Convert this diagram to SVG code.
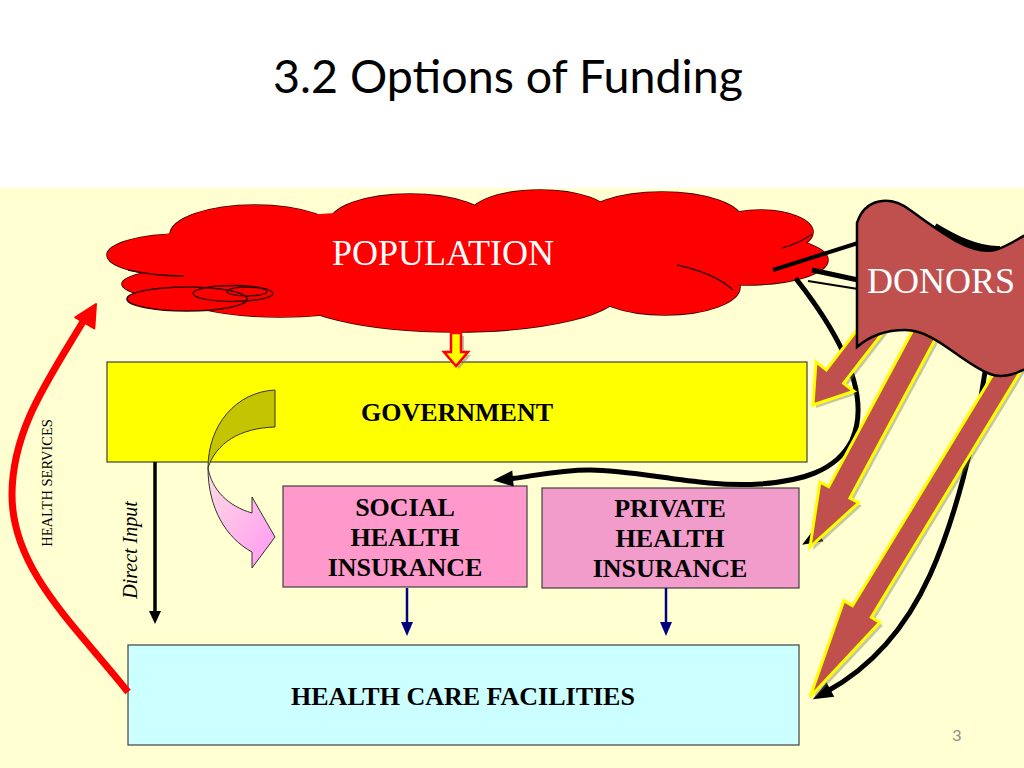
<svg xmlns="http://www.w3.org/2000/svg" width="1024" height="768" viewBox="0 0 1024 768">
<style>
.box{stroke:#404040;stroke-width:1.2}
.lbl{font-family:"Liberation Serif","Times New Roman",serif;font-weight:bold;font-size:26px;fill:#000;text-anchor:middle}
.cl{fill:#FF0000;stroke:#3a0000;stroke-width:1.6}
.cf{fill:#FF0000;stroke:none}
.cin{fill:none;stroke:#3a0000;stroke-width:1.4}
.blk{fill:none;stroke:#000;stroke-width:5;stroke-linecap:round}
.brown{fill:#C0504D;stroke:#FFFF00;stroke-width:3;stroke-linejoin:miter}
.shadow{fill:#707060;opacity:0.4}
.navy{stroke:#000080;stroke-width:2.5}
.navyhead{fill:#000080}
</style>
<defs>
<marker id="blackHead" markerWidth="4.2" markerHeight="3.4" refX="1" refY="1.6" orient="auto" markerUnits="strokeWidth" overflow="visible">
<path d="M0,0 L4,1.6 L0,3.2 Z" fill="#000"/>
</marker>
<linearGradient id="pinkGrad" x1="0" y1="0" x2="1" y2="1">
<stop offset="0" stop-color="#FFDCE2"/>
<stop offset="1" stop-color="#FF98F4"/>
</linearGradient>
<polygon id="arrA" points="813,405 853.9,391.2 843.6,383.3 888.8,324.8 871.4,311.4 826.3,369.9 816,361.9"/>
<polygon id="arrB" points="810,547 858.7,502.8 849.9,498.1 938.9,332.5 917.7,321.1 828.7,486.7 819.9,482"/>
<polygon id="arrC" points="810,697 879.9,622.4 871.3,617.2 1024.4,365 1005.6,353.6 852.5,605.8 843.9,600.6"/>
</defs>

<rect x="0" y="0" width="1024" height="768" fill="#FFFFFF"/>
<rect x="0" y="188" width="1024" height="580" fill="#FFFFD1"/>

<text x="273" y="93" font-family="Lato,'Open Sans',sans-serif" font-size="46" textLength="470" lengthAdjust="spacingAndGlyphs" fill="#000">3.2 Options of Funding</text>

<g id="government">
<rect class="box" x="107" y="362" width="700" height="100" fill="#FFFF00"/>
<text class="lbl" x="457" y="421">GOVERNMENT</text>
</g>

<g id="health-care-facilities">
<rect class="box" x="128" y="645" width="671" height="100" fill="#CCFFFF"/>
<text class="lbl" x="463" y="705">HEALTH CARE FACILITIES</text>
</g>

<g id="social-health-insurance">
<rect class="box" x="283" y="486" width="244" height="101" fill="#FF99CC"/>
<text class="lbl" x="405" y="516">SOCIAL</text>
<text class="lbl" x="405" y="546">HEALTH</text>
<text class="lbl" x="405" y="576">INSURANCE</text>
</g>

<g id="private-health-insurance">
<rect class="box" x="542" y="488" width="257" height="100" fill="#F29CCB"/>
<text class="lbl" x="670" y="517">PRIVATE</text>
<text class="lbl" x="670" y="547">HEALTH</text>
<text class="lbl" x="670" y="577">INSURANCE</text>
</g>

<g id="population">
<ellipse class="cl" cx="255" cy="235" rx="85" ry="30"/>
<ellipse class="cl" cx="410" cy="222" rx="80" ry="28"/>
<ellipse class="cl" cx="540" cy="215" rx="70" ry="25"/>
<ellipse class="cl" cx="662" cy="220" rx="80" ry="28"/>
<ellipse class="cl" cx="760" cy="232" rx="53" ry="22"/>
<ellipse class="cl" cx="745" cy="260" rx="83" ry="25"/>
<ellipse class="cl" cx="665" cy="287" rx="75" ry="28"/>
<ellipse class="cl" cx="455" cy="292" rx="165" ry="40"/>
<ellipse class="cl" cx="280" cy="290" rx="110" ry="27"/>
<ellipse class="cl" cx="200" cy="284" rx="78" ry="16"/>
<ellipse class="cl" cx="182" cy="255" rx="75" ry="21"/>
<ellipse class="cf" cx="255" cy="235" rx="85" ry="30"/>
<ellipse class="cf" cx="410" cy="222" rx="80" ry="28"/>
<ellipse class="cf" cx="540" cy="215" rx="70" ry="25"/>
<ellipse class="cf" cx="662" cy="220" rx="80" ry="28"/>
<ellipse class="cf" cx="760" cy="232" rx="53" ry="22"/>
<ellipse class="cf" cx="745" cy="260" rx="83" ry="25"/>
<ellipse class="cf" cx="665" cy="287" rx="75" ry="28"/>
<ellipse class="cf" cx="455" cy="292" rx="165" ry="40"/>
<ellipse class="cf" cx="280" cy="290" rx="110" ry="27"/>
<ellipse class="cf" cx="200" cy="284" rx="78" ry="16"/>
<ellipse class="cf" cx="182" cy="255" rx="75" ry="21"/>
<ellipse class="cf" cx="450" cy="255" rx="320" ry="45"/>
<ellipse class="cl" cx="187" cy="299" rx="60" ry="12"/>
<path class="cin" d="M677,265 C700,270 720,278 733,290"/>
<path class="cin" d="M782,248 Q800,243 812,234"/>
<path class="cin" d="M128,270 Q155,276 184,276"/>
<ellipse class="cin" cx="233" cy="293.5" rx="40" ry="8"/>
<ellipse class="cin" cx="247" cy="291.5" rx="20" ry="4.5"/>
<text x="443" y="265" font-family="'Liberation Serif','Times New Roman',serif" font-size="36" fill="#FFFFFF" text-anchor="middle">POPULATION</text>
</g>

<g id="connectors">
<!-- population to government -->
<polygon points="451,333 461,333 461,352 468,352 456,366 444,352 451,352" fill="#808080" opacity="0.5" transform="translate(3,3)"/>
<polygon points="451,333 461,333 461,352 468,352 456,366 444,352 451,352" fill="#FFFF00" stroke="#FF0000" stroke-width="2.5" stroke-linejoin="miter"/>
<!-- direct input -->
<line x1="155" y1="462" x2="155" y2="613" stroke="#000" stroke-width="3.5"/>
<polygon points="149,611 161,611 155,624" fill="#000"/>
<text transform="translate(137,550) rotate(-90)" font-family="'Liberation Serif','Times New Roman',serif" font-style="italic" font-size="20" text-anchor="middle" fill="#000">Direct Input</text>
<!-- insurance to facilities -->
<line class="navy" x1="407" y1="588" x2="407" y2="624"/>
<polygon class="navyhead" points="401,622 413,622 407,636"/>
<line class="navy" x1="666" y1="588" x2="666" y2="624"/>
<polygon class="navyhead" points="660,622 672,622 666,636"/>
<!-- government to social health insurance (curved arrow) -->
<path d="M275,390 C236,392 208,425 208,468 C216,443 240,428 275,427 Z" fill="#C4C400" stroke="#333" stroke-width="1"/>
<path d="M208,468 C208,508 226,538 252,552 L252,568 L275,537 L252,497 L252,513 C228,506 212,490 208,468 Z" fill="url(#pinkGrad)" stroke="#333" stroke-width="1"/>
<!-- health services back to population -->
<path d="M128,692 C75,625 12,570 12,495 C12,430 48,380 84,320" fill="none" stroke="#FF0000" stroke-width="7"/>
<polygon points="96,304 94.3,328.5 75.3,317.3" fill="#FF0000" stroke="#FF0000" stroke-width="2" stroke-linejoin="round"/>
<text transform="translate(52,483) rotate(-90)" font-family="'Liberation Serif','Times New Roman',serif" font-size="14.5" text-anchor="middle" fill="#000">HEALTH SERVICES</text>
<!-- black lines between population and donors -->
<line x1="773" y1="270" x2="858" y2="243" stroke="#000" stroke-width="4"/>
<line x1="812" y1="270" x2="858" y2="280" stroke="#000" stroke-width="5"/>
<line x1="808" y1="281" x2="858" y2="289" stroke="#000" stroke-width="2"/>
<path d="M935,226 C955,238 978,250 1000,249" fill="none" stroke="#000" stroke-width="6"/>
<!-- black curved flows -->
<path class="blk" d="M797,280 C840,335 872,395 852,440 C836,472 800,481 760,484 C700,488 640,470 590,470 C555,470 530,477 508,479" marker-end="url(#blackHead)"/>
<path class="blk" d="M915,332 C905,390 875,440 855,480 C840,510 830,528 815,537" marker-end="url(#blackHead)"/>
<path class="blk" d="M985,372 C975,440 955,520 930,575 C905,630 870,668 826,692" marker-end="url(#blackHead)"/>
<!-- donor flows -->
<use href="#arrA" class="shadow" transform="translate(3,3)"/>
<use href="#arrA" class="brown"/>
<use href="#arrB" class="shadow" transform="translate(3,3)"/>
<use href="#arrB" class="brown"/>
<use href="#arrC" class="shadow" transform="translate(3,3)"/>
<use href="#arrC" class="brown"/>
</g>

<g id="donors">
<path d="M857,223 C865,198 890,195 910,210 C940,232 970,255 995,250 C1010,246 1020,236 1040,228 L1040,362 C1020,372 1005,380 990,374 C960,362 935,330 905,330 C880,330 865,340 857,347 Z" fill="#C0504D" stroke="#000" stroke-width="2.5"/>
<text x="941" y="293" font-family="'Liberation Serif','Times New Roman',serif" font-size="36" fill="#FFFFFF" text-anchor="middle">DONORS</text>
</g>

<text x="957" y="741" font-family="Lato,'Open Sans',sans-serif" font-size="16" fill="#8C8C8C" text-anchor="middle">3</text>
</svg>
